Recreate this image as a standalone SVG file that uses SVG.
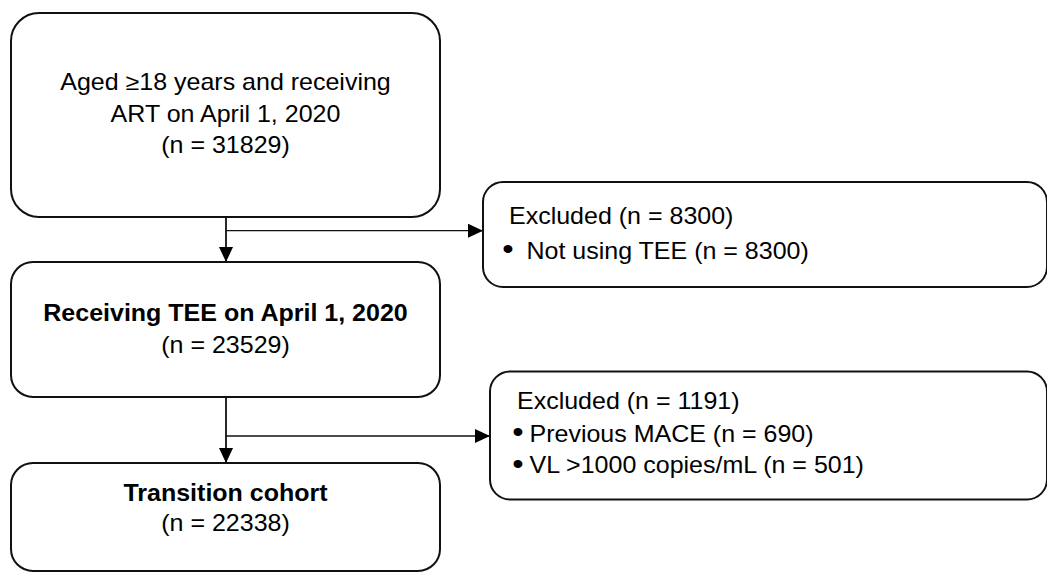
<svg xmlns="http://www.w3.org/2000/svg" width="1047" height="572" viewBox="0 0 1047 572">
  <style>
    .box { fill: #ffffff; stroke: #111111; stroke-width: 2; }
    .t { font-family: "Liberation Sans", Arial, sans-serif; font-size: 23px; fill: #000000; }
    .bl { font-size: 30px; }
    .c { text-anchor: middle; }
    .b { font-weight: bold; }
    .conn { fill: none; stroke: #111111; }
  </style>
  <defs>
    <marker id="arrow" markerUnits="userSpaceOnUse" markerWidth="15" markerHeight="14" refX="15" refY="7" orient="auto">
      <path d="M0,0 L15,7 L0,14 z" fill="#000000"/>
    </marker>
  </defs>
  <rect width="1047" height="572" fill="#ffffff"/>

  <g id="connectors">
    <line class="conn" x1="226" y1="217" x2="226" y2="262" stroke-width="1.8" marker-end="url(#arrow)"/>
    <line class="conn" x1="226" y1="230.7" x2="483" y2="230.7" stroke-width="1.3" marker-end="url(#arrow)"/>
    <line class="conn" x1="226" y1="397" x2="226" y2="463" stroke-width="1.8" marker-end="url(#arrow)"/>
    <line class="conn" x1="226" y1="436" x2="490" y2="436" stroke-width="1.3" marker-end="url(#arrow)"/>
  </g>

  <g id="node-aged">
    <rect class="box" x="11" y="13" width="429" height="204" rx="28" ry="28"/>
    <g transform="translate(225.5,0) scale(1.087,1)">
      <text class="t c" x="0" y="90.5">Aged ≥18 years and receiving</text>
      <text class="t c" x="0" y="122">ART on April 1, 2020</text>
      <text class="t c" x="0" y="153.5">(n = 31829)</text>
    </g>
  </g>

  <g id="node-excluded1">
    <rect class="box" x="483" y="182" width="564" height="105" rx="20" ry="20"/>
    <g transform="translate(509,0) scale(1.087,1)">
      <text class="t" x="0" y="224.5">Excluded (n = 8300)</text>
    </g>
    <g transform="translate(502.3,0) scale(1.087,1)">
      <text class="t bl" x="0" y="259.5">•</text>
    </g>
    <g transform="translate(526.5,0) scale(1.087,1)">
      <text class="t" x="0" y="259">Not using TEE (n = 8300)</text>
    </g>
  </g>

  <g id="node-receiving">
    <rect class="box" x="11" y="262" width="429" height="135" rx="22" ry="22"/>
    <g transform="translate(225.5,0) scale(1.087,1)">
      <text class="t c b" x="0" y="320.7">Receiving TEE on April 1, 2020</text>
      <text class="t c" x="0" y="352.7">(n = 23529)</text>
    </g>
  </g>

  <g id="node-excluded2">
    <rect class="box" x="490" y="371.5" width="557" height="128" rx="20" ry="20"/>
    <g transform="translate(517,0) scale(1.087,1)">
      <text class="t" x="0" y="409.5">Excluded (n = 1191)</text>
    </g>
    <g transform="translate(512.3,0) scale(1.087,1)">
      <text class="t bl" x="0" y="442">•</text>
      <text class="t bl" x="0" y="474">•</text>
    </g>
    <g transform="translate(529.5,0) scale(1.087,1)">
      <text class="t" x="0" y="441.7">Previous MACE (n = 690)</text>
      <text class="t" x="0" y="473.5">VL &gt;1000 copies/mL (n = 501)</text>
    </g>
  </g>

  <g id="node-transition">
    <rect class="box" x="11" y="463" width="429" height="108" rx="22" ry="22"/>
    <g transform="translate(225.5,0) scale(1.087,1)">
      <text class="t c b" x="0" y="500.7">Transition cohort</text>
      <text class="t c" x="0" y="530.7">(n = 22338)</text>
    </g>
  </g>
</svg>
